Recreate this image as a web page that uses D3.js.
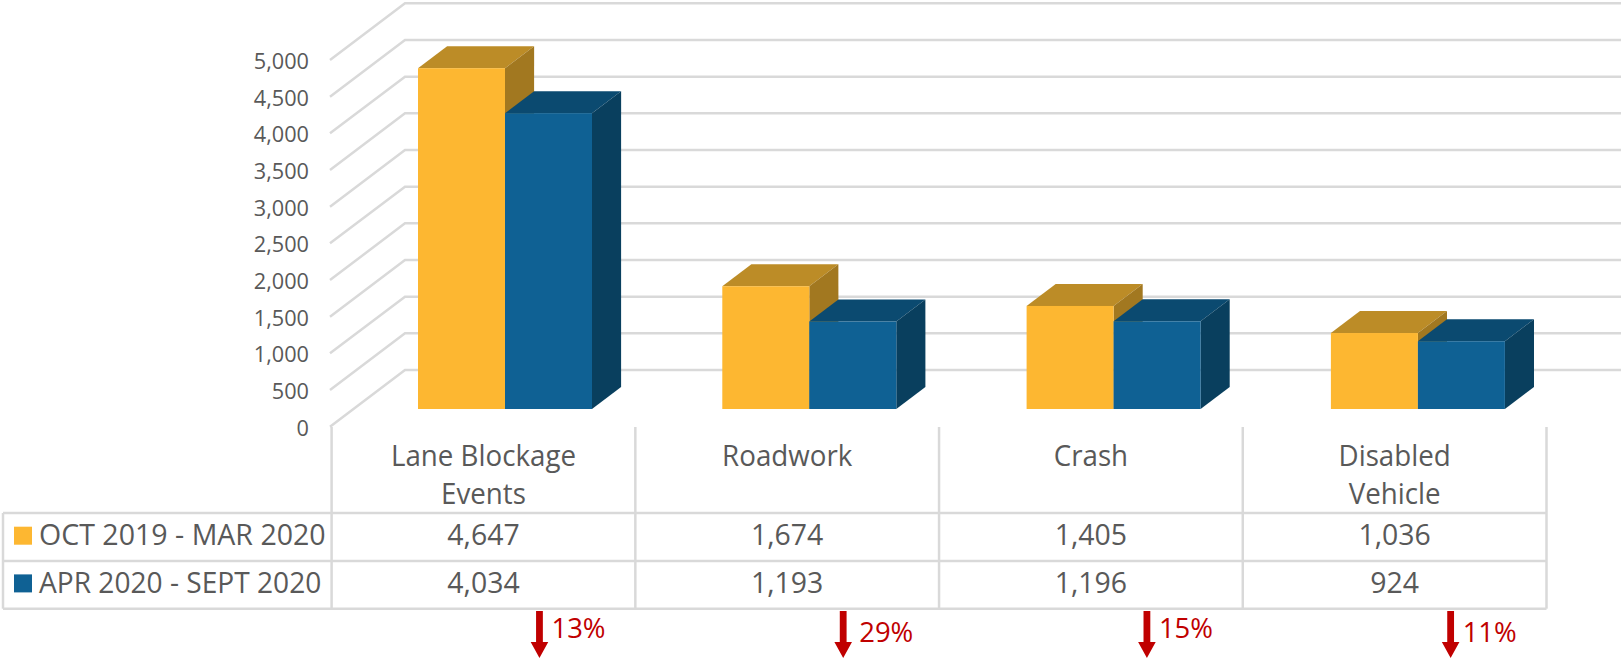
<!DOCTYPE html>
<html>
<head>
<meta charset="utf-8">
<script src="https://cdnjs.cloudflare.com/ajax/libs/d3/7.8.5/d3.min.js"></script>
<style>
    html, body { margin: 0; padding: 0; background: #fff; }
    svg { display: block; }
    text { font-family: "Open Sans", sans-serif; fill: #595959; }
</style>
</head>
<body>
<div id="chart"></div>
<script>
const categories = ["Lane Blockage Events", "Roadwork", "Crash", "Disabled Vehicle"]
const categoryLines = [["Lane Blockage", "Events"], ["Roadwork"], ["Crash"], ["Disabled", "Vehicle"]]
const seriesNames = ["OCT 2019 - MAR 2020", "APR 2020 - SEPT 2020"]
const oct2019 = [4647, 1674, 1405, 1036]
const apr2020 = [4034, 1193, 1196, 924]
const changes = ["13%", "29%", "15%", "11%"]
const yTicks = [0, 500, 1000, 1500, 2000, 2500, 3000, 3500, 4000, 4500, 5000]

const series = [oct2019, apr2020]
const faces = [
    { front: "#fdb731", top: "#bc8c27", side: "#a27820" },
    { front: "#0f6194", top: "#0b4a70", side: "#093f5e" }
]
const gridColour = "#d9d9d9"
const red = "#c00000"

const width = 1621, height = 660

const svg = d3.select("#chart").append("svg")
    .attr("width", width)
    .attr("height", height)

// front edge of the 3d box
const y = d3.scaleLinear().domain([0, 5000]).range([426.7, 60])
const x = d3.scaleBand().domain(categories).range([331.6, 1546.5])
const groupX = d3.scaleBand().domain(categories).range([330.5, 1547.7])
const barX = d3.scaleBand().domain([0, 1]).range([87.5, 87.5 + 174])

// depth into the box, 0 is the front edge and 1 the back wall
const depthX = d3.scaleLinear().domain([0, 1]).range([0, 75])
const depthY = d3.scaleLinear().domain([0, 1]).range([0, -56.7])
const barFront = 0.312, barBack = 0.7

// gridlines
svg.append("g").selectAll("polyline")
    .data(yTicks)
    .enter()
    .append("polyline")
    .attr("points", d => [
        [330, y(d)],
        [330 + depthX(1), y(d) + depthY(1)],
        [width, y(d) + depthY(1)]
    ].join(" "))
    .style("fill", "none")
    .style("stroke", gridColour)
    .style("stroke-width", 2.5)

// y axis labels
const yAxis = svg.append("g")
    .attr("transform", "translate(309,0)")
    .call(d3.axisLeft(y).tickValues(yTicks).tickSize(0).tickPadding(0).tickFormat(d3.format(",")))
yAxis.select(".domain").remove()
yAxis.selectAll("text")
    .attr("dy", null)
    .attr("y", 8.5)
    .style("font-family", '"Open Sans", sans-serif')
    .style("font-size", "21.7px")
    .style("fill", "#595959")

// bars, drawn series by series so the blue top sits over the yellow side
const barBase = v => y(v) + depthY(barFront)
const dx = depthX(barBack - barFront)
const dy = depthY(barBack - barFront)

categories.forEach((cat, c) => {
    series.forEach((vals, s) => {
        const g = svg.append("g")
        const left = groupX(cat) + barX(s)
        const right = left + barX.bandwidth()
        const top = barBase(vals[c])
        const bottom = barBase(0)

        g.append("polygon")
            .attr("points", [[left, top], [left + dx, top + dy], [right + dx, top + dy], [right, top]].join(" "))
            .style("fill", faces[s].top)
        g.append("polygon")
            .attr("points", [[right, top], [right + dx, top + dy], [right + dx, bottom + dy], [right, bottom]].join(" "))
            .style("fill", faces[s].side)
        g.append("rect")
            .attr("x", left)
            .attr("y", top)
            .attr("width", barX.bandwidth())
            .attr("height", bottom - top)
            .style("fill", faces[s].front)
    })
})

// data table
const tableTop = 427, headBottom = 513, rowLine = 561, tableBottom = 608.7, tableLeft = 3
const rowBaseline = [545, 592.7]
const legendSqueeze = [0.985, 0.97]
const table = svg.append("g")
    .style("stroke", gridColour)
    .style("stroke-width", 2.5)

x.domain().concat("end").forEach(cat => {
    const px = cat == "end" ? x.range()[1] : x(cat)
    table.append("line")
        .attr("x1", px).attr("x2", px)
        .attr("y1", tableTop).attr("y2", tableBottom)
})
table.append("line")
    .attr("x1", tableLeft).attr("x2", tableLeft)
    .attr("y1", headBottom).attr("y2", tableBottom)
;[headBottom, rowLine, tableBottom].forEach(py => {
    table.append("line")
        .attr("x1", tableLeft).attr("x2", x.range()[1])
        .attr("y1", py).attr("y2", py)
})

function cellText(px, py, str, size, anchor, sx) {
    return svg.append("text")
        .attr("transform", `translate(${px},${py}) scale(${sx},1)`)
        .attr("text-anchor", anchor)
        .style("font-size", size + "px")
        .text(str)
}

categories.forEach((cat, c) => {
    const cx = x(cat) + x.bandwidth() / 2
    categoryLines[c].forEach((line, l) => {
        cellText(cx, 465.5 + l * 38.5, line, 29, "middle", 0.956)
    })
    series.forEach((vals, s) => {
        cellText(cx, rowBaseline[s], d3.format(",")(vals[c]), 29, "middle", 0.98)
    })
})

// legend keys in the first table column
seriesNames.forEach((name, s) => {
    svg.append("rect")
        .attr("x", 14)
        .attr("y", rowBaseline[s] - 18.3)
        .attr("width", 18)
        .attr("height", 18)
        .style("fill", faces[s].front)
    cellText(39, rowBaseline[s], name, 29, "start", legendSqueeze[s])
})

// change arrows under the table
const changeBaseline = [637.5, 642, 637.5, 641.5]
const changeGap = [12, 16, 12, 12]
categories.forEach((cat, c) => {
    const ax = x(cat) + x.bandwidth() / 2 + 56
    svg.append("path")
        .attr("d", d3.line()([
            [ax - 3.4, 611], [ax + 3.4, 611], [ax + 3.4, 642], [ax + 8.8, 642],
            [ax, 658], [ax - 8.8, 642], [ax - 3.4, 642]
        ]) + "Z")
        .style("fill", red)
    cellText(ax + changeGap[c], changeBaseline[c], changes[c], 28, "start", 0.98)
        .style("fill", red)
})
</script>
</body>
</html>
